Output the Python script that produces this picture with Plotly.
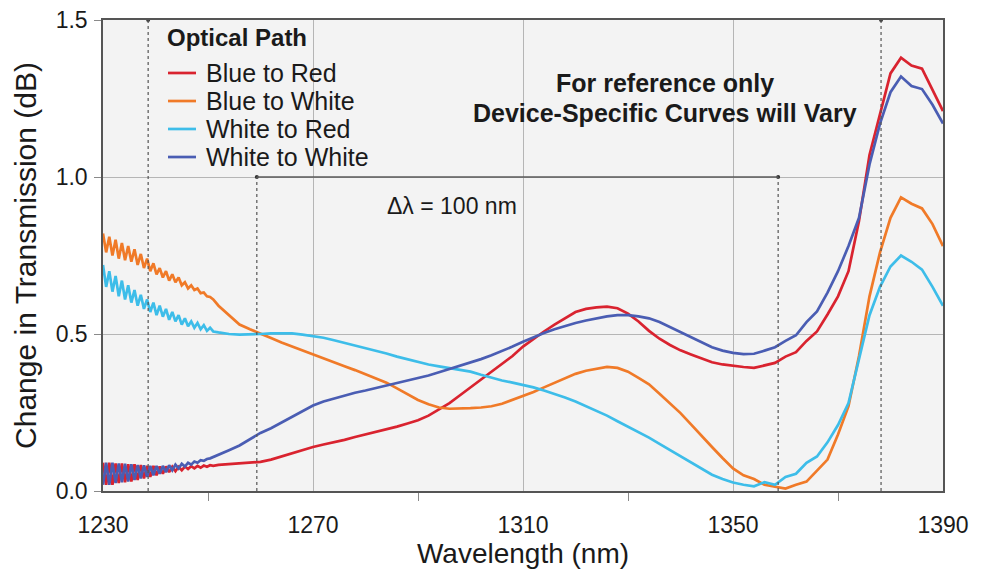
import numpy as np
import plotly.graph_objects as go

# ---------------- data ----------------
# fine sampling where the start-of-band ripple is visible, coarser afterwards
wl_ripple = [round(1230 + 0.6 * i, 1) for i in range(36)]          # 1230.0 .. 1251.0
wl_main = list(range(1252, 1391, 2))                                 # 1252 .. 1390
wavelength = wl_ripple + wl_main

blue_to_red = [
    0.09, 0.02, 0.09, 0.02, 0.088, 0.025, 0.088, 0.028, 0.085, 0.03, 0.085, 0.035,
    0.083, 0.04, 0.08, 0.045, 0.08, 0.05, 0.078, 0.055, 0.078, 0.06, 0.077, 0.063,
    0.077, 0.066, 0.078, 0.07, 0.079, 0.072, 0.08, 0.074, 0.081, 0.077, 0.082, 0.08,
    0.083, 0.085, 0.087, 0.09, 0.093, 0.10, 0.11, 0.12, 0.132, 0.14, 0.148, 0.155,
    0.163, 0.172, 0.18, 0.188, 0.196, 0.205, 0.215, 0.225, 0.24, 0.26, 0.28, 0.305,
    0.33, 0.355, 0.38, 0.405, 0.43, 0.46, 0.485, 0.508, 0.53, 0.55, 0.57, 0.58,
    0.585, 0.587, 0.582, 0.565, 0.54, 0.51, 0.485, 0.465, 0.448, 0.435, 0.422, 0.41,
    0.403, 0.398, 0.395, 0.392, 0.40, 0.408, 0.428, 0.442, 0.478, 0.508, 0.562, 0.62,
    0.70, 0.86, 1.07, 1.20, 1.33, 1.38, 1.355, 1.345, 1.28, 1.21,
]
blue_to_white = [
    0.82, 0.76, 0.81, 0.75, 0.80, 0.74, 0.79, 0.735, 0.78, 0.73, 0.77, 0.72,
    0.755, 0.71, 0.74, 0.70, 0.725, 0.69, 0.71, 0.68, 0.70, 0.67, 0.69, 0.665,
    0.68, 0.655, 0.665, 0.645, 0.655, 0.64, 0.645, 0.63, 0.632, 0.62, 0.618, 0.61,
    0.59, 0.56, 0.53, 0.515, 0.50, 0.487, 0.473, 0.46, 0.447, 0.435, 0.423, 0.41,
    0.397, 0.385, 0.372, 0.36, 0.345, 0.327, 0.308, 0.29, 0.276, 0.266, 0.262, 0.262,
    0.264, 0.266, 0.27, 0.278, 0.29, 0.303, 0.315, 0.33, 0.345, 0.36, 0.373, 0.383,
    0.39, 0.395, 0.392, 0.38, 0.36, 0.34, 0.31, 0.28, 0.248, 0.212, 0.175, 0.14,
    0.105, 0.072, 0.05, 0.038, 0.02, 0.014, 0.008, 0.02, 0.03, 0.065, 0.1, 0.18,
    0.27, 0.43, 0.62, 0.76, 0.87, 0.935, 0.915, 0.9, 0.85, 0.78,
]
white_to_red = [
    0.72, 0.65, 0.70, 0.635, 0.685, 0.62, 0.67, 0.61, 0.655, 0.60, 0.64, 0.59,
    0.625, 0.58, 0.61, 0.57, 0.60, 0.56, 0.59, 0.555, 0.58, 0.545, 0.57, 0.54,
    0.56, 0.53, 0.55, 0.525, 0.54, 0.52, 0.535, 0.515, 0.528, 0.51, 0.52, 0.508,
    0.505, 0.50, 0.498, 0.498, 0.50, 0.502, 0.503, 0.502, 0.498, 0.494, 0.488, 0.48,
    0.472, 0.464, 0.456, 0.447, 0.438, 0.428, 0.419, 0.41, 0.403, 0.397, 0.392, 0.387,
    0.38, 0.37, 0.36, 0.352, 0.345, 0.338, 0.33, 0.32, 0.31, 0.298, 0.285, 0.27,
    0.255, 0.24, 0.222, 0.205, 0.188, 0.17, 0.15, 0.13, 0.11, 0.09, 0.07, 0.052,
    0.038, 0.027, 0.02, 0.015, 0.028, 0.02, 0.045, 0.055, 0.09, 0.11, 0.155, 0.21,
    0.28, 0.42, 0.56, 0.65, 0.715, 0.75, 0.73, 0.705, 0.65, 0.59,
]
white_to_white = [
    0.02, 0.09, 0.02, 0.09, 0.025, 0.088, 0.028, 0.087, 0.03, 0.085, 0.035, 0.083,
    0.04, 0.082, 0.045, 0.08, 0.05, 0.08, 0.055, 0.08, 0.06, 0.082, 0.066, 0.084,
    0.072, 0.087, 0.078, 0.09, 0.084, 0.094, 0.09, 0.098, 0.096, 0.102, 0.104, 0.108,
    0.115, 0.13, 0.145, 0.165, 0.185, 0.20, 0.218, 0.235, 0.255, 0.272, 0.285, 0.295,
    0.305, 0.313, 0.32, 0.328, 0.335, 0.343, 0.35, 0.358, 0.368, 0.378, 0.388, 0.398,
    0.408, 0.42, 0.432, 0.445, 0.46, 0.475, 0.49, 0.503, 0.515, 0.526, 0.535, 0.543,
    0.55, 0.556, 0.56, 0.56, 0.556, 0.55, 0.538, 0.522, 0.505, 0.488, 0.472, 0.458,
    0.447, 0.44, 0.436, 0.437, 0.447, 0.458, 0.478, 0.496, 0.538, 0.572, 0.632, 0.70,
    0.78, 0.87, 1.04, 1.17, 1.27, 1.32, 1.29, 1.28, 1.23, 1.17,
]

series_names = ["Blue to Red", "Blue to White", "White to Red", "White to White"]
series_values = [blue_to_red, blue_to_white, white_to_red, white_to_white]
series_colors = ["#d9232f", "#f07a28", "#3dbde9", "#4a5db3"]

x_ticks = [1230, 1270, 1310, 1350, 1390]
x_minor_ticks = [1250, 1290, 1330, 1370]
y_ticks = [0.0, 0.5, 1.0, 1.5]

outer_markers = [1238.6, 1378.2]   # dashed lines reaching the top
delta_markers = [1259.3, 1358.6]   # Δλ = 100 nm span
delta_level = 1.0

legend_title = "Optical Path"
note_lines = ["For reference only", "Device-Specific Curves will Vary"]
delta_label = "Δλ = 100 nm"

# ---------------- figure ----------------
FONT = "Liberation Sans, Arial, Helvetica, sans-serif"
INK = "#1a1a1a"

fig = go.Figure()
for name, vals, col in zip(series_names, series_values, series_colors):
    fig.add_trace(go.Scatter(x=wavelength, y=vals, mode="lines", name=name,
                             line=dict(color=col, width=2.7), showlegend=False))

shapes = []
for xv in outer_markers:
    shapes.append(dict(type="line", xref="x", yref="y", x0=xv, x1=xv, y0=0, y1=1.5,
                       line=dict(color="#555555", width=1.2, dash="dot")))
for xv in delta_markers:
    shapes.append(dict(type="line", xref="x", yref="y", x0=xv, x1=xv, y0=0, y1=delta_level,
                       line=dict(color="#555555", width=1.2, dash="dot")))
shapes.append(dict(type="line", xref="x", yref="y", x0=delta_markers[0], x1=delta_markers[1],
                   y0=delta_level, y1=delta_level, line=dict(color="#5a5a5a", width=1.6)))

# hand-placed legend (tighter line spacing than plotly's built-in legend)
leg_x_line0, leg_x_line1, leg_x_text = 0.0774, 0.1107, 0.1202
leg_rows_y = [0.8875, 0.8280, 0.7686, 0.7091]
annotations = [dict(x=0.0738, y=0.9639, xref="paper", yref="paper", xanchor="left", yanchor="middle",
                    text="<b>%s</b>" % legend_title, showarrow=False,
                    font=dict(family=FONT, size=24, color=INK))]
for name, col, yy in zip(series_names, series_colors, leg_rows_y):
    shapes.append(dict(type="line", xref="paper", yref="paper", x0=leg_x_line0, x1=leg_x_line1,
                       y0=yy, y1=yy, line=dict(color=col, width=2.7)))
    annotations.append(dict(x=leg_x_text, y=yy, xref="paper", yref="paper", xanchor="left",
                            yanchor="middle", text=name, showarrow=False,
                            font=dict(family=FONT, size=25, color=INK)))

annotations.append(dict(x=0.669, y=0.8662, xref="paper", yref="paper", xanchor="center", yanchor="middle",
                        text="<b>%s</b>" % note_lines[0], showarrow=False,
                        font=dict(family=FONT, size=25, color=INK)))
annotations.append(dict(x=0.669, y=0.8025, xref="paper", yref="paper", xanchor="center", yanchor="middle",
                        text="<b>%s</b>" % note_lines[1], showarrow=False,
                        font=dict(family=FONT, size=25, color=INK)))
annotations.append(dict(x=0.4155, y=0.6051, xref="paper", yref="paper", xanchor="center", yanchor="middle",
                        text=delta_label, showarrow=False,
                        font=dict(family=FONT, size=23, color=INK)))

# little end dots of the dimension lines
fig.add_trace(go.Scatter(x=delta_markers + outer_markers, y=[delta_level] * 2 + [1.5] * 2,
                         mode="markers", marker=dict(color="#333333", size=4),
                         showlegend=False, hoverinfo="skip", cliponaxis=False))

# the page body adds an 8 px margin, so the figure is 8 px smaller on each side
fig.update_layout(
    width=974, height=569,
    margin=dict(l=95, r=39, t=12, b=86),
    paper_bgcolor="white", plot_bgcolor="#f3f3f3",
    font=dict(family=FONT, color=INK),
    showlegend=False,
    shapes=shapes, annotations=annotations,
    xaxis=dict(
        range=[1230, 1390], tickvals=x_ticks, ticktext=[str(v) for v in x_ticks],
        showgrid=True, gridcolor="#b5b5b5", gridwidth=1,
        ticks="outside", ticklen=1, tickcolor="rgba(0,0,0,0)",
        showline=True, linecolor="#555555", linewidth=1.5, mirror=True,
        tickfont=dict(family=FONT, size=23, color=INK), ticklabelstandoff=12,
        ticklabeloverflow="allow",
        minor=dict(tickvals=x_minor_ticks, ticks="outside", ticklen=8,
                   tickcolor="#8a8a8a", tickwidth=1, showgrid=False),
        title=dict(text="Wavelength (nm)", font=dict(family=FONT, size=28, color=INK), standoff=5),
        zeroline=False, automargin=False,
    ),
    yaxis=dict(
        range=[0, 1.5], tickvals=y_ticks, tickformat=".1f",
        showgrid=True, gridcolor="#b5b5b5", gridwidth=1,
        ticks="outside", ticklen=7, tickcolor="#8a8a8a",
        showline=True, linecolor="#555555", linewidth=1.5, mirror=True,
        tickfont=dict(family=FONT, size=23, color=INK), ticklabelstandoff=2,
        ticklabeloverflow="allow",
        title=dict(text="Change in Transmission (dB)", font=dict(family=FONT, size=30, color=INK), standoff=10),
        zeroline=False, automargin=False,
    ),
)

fig.write_html("out.html")
